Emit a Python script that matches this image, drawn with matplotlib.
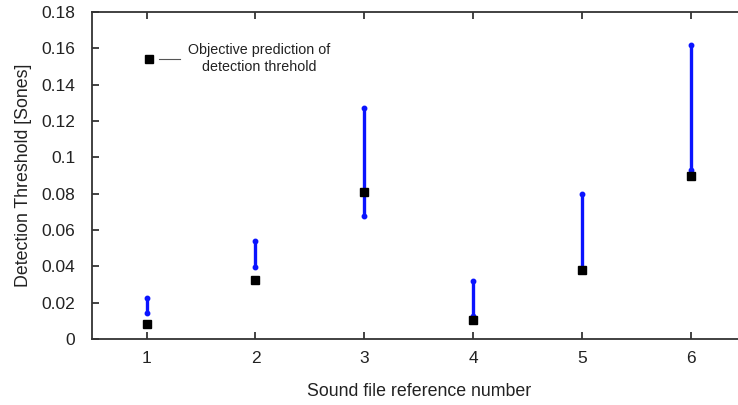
import matplotlib
matplotlib.use("Agg")
import matplotlib.pyplot as plt

plt.rcParams['font.family'] = ['Liberation Sans', 'DejaVu Sans']

files = [1, 2, 3, 4, 5, 6]
predicted = [0.0083, 0.0325, 0.081, 0.0105, 0.038, 0.0897]
range_low = [0.0143, 0.0396, 0.0677, 0.0127, 0.0385, 0.093]
range_high = [0.0226, 0.054, 0.127, 0.032, 0.080, 0.162]
y_ticks = [0, 0.02, 0.04, 0.06, 0.08, 0.1, 0.12, 0.14, 0.16, 0.18]
y_tick_labels = ['0', '0.02', '0.04', '0.06', '0.08', '0.1', '0.12', '0.14', '0.16', '0.18']

fig = plt.figure(figsize=(7.38, 4.05), dpi=100)
ax = fig.add_axes([0.1247, 0.163, 0.886, 0.807])

# measured threshold ranges
ax.vlines(files, range_low, range_high, color='#0a14ff', lw=2.4, zorder=2)
ax.plot(files, range_low, 'o', color='#0a14ff', ms=3.2, zorder=2)
ax.plot(files, range_high, 'o', color='#0a14ff', ms=3.2, zorder=2)

# objective predictions
ax.plot(files, predicted, 's', color='black', ms=5.2, zorder=3, linestyle='none')

# key
key_x, key_y = 1.02, 0.154
ax.plot([key_x], [key_y], 's', color='black', ms=5.2)
ax.plot([1.11, 1.31], [key_y, key_y], color='#555555', lw=0.8)
ax.text(1.385, key_y + 0.0005, 'Objective prediction of\ndetection threhold',
        ha='left', va='center', fontsize=10.3, color='#222222', linespacing=1.3,
        multialignment='center')

ax.set_xlim(0.5, 6.5)
ax.set_ylim(0, 0.18)
ax.set_xticks(files)
ax.set_yticks(y_ticks)
ax.set_yticklabels(y_tick_labels)
ax.tick_params(direction='in', length=5, width=1.2, labelsize=12.5, colors='#222222', pad=12,
               top=True, right=False)
ax.tick_params(axis='x', pad=9)
for side in ['left', 'bottom', 'top']:
    ax.spines[side].set_linewidth(1.3)
    ax.spines[side].set_color('#333333')
ax.spines['right'].set_visible(False)

ax.set_xlabel('Sound file reference number', fontsize=12.8, color='#222222', labelpad=12)
ax.set_ylabel('Detection Threshold [Sones]', fontsize=12.8, color='#222222', labelpad=7)

fig.savefig('out.png', dpi=100)
